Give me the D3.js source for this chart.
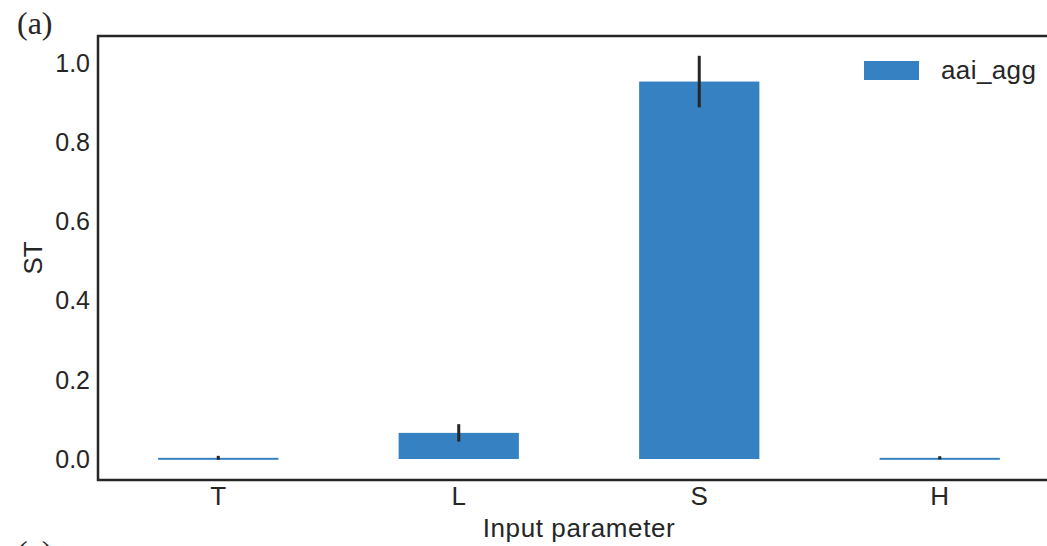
<!DOCTYPE html>
<html>
<head>
<meta charset="utf-8">
<script src="https://cdn.jsdelivr.net/npm/d3@7"></script>
<style>
  body { margin: 0; background: #fff; }
  svg text { font-family: "Liberation Sans", Arial, sans-serif; fill: #262626; }
</style>
</head>
<body>
<svg id="svg1" width="1047" height="546"></svg>
<script>
"use strict";

// data
let categories = ["T", "L", "S", "H"];
let stValues = [0.003, 0.066, 0.953, 0.003];
let stErrors = [0.005, 0.022, 0.065, 0.004];
let yTicks = [0.0, 0.2, 0.4, 0.6, 0.8, 1.0];
let seriesName = "aai_agg";

let svg = d3.select("#svg1");
let margin = {top: 36, left: 98, bottom: 66};
let plotRight = 1060;   // right spine sits just past the window edge
let height = 546 - margin.top - margin.bottom;

let x = d3.scaleBand().domain(categories).range([margin.left, plotRight]).padding(0.5).paddingOuter(0.25);
let y = d3.scaleLinear().domain([-0.053, 1.068]).range([margin.top + height, margin.top]);

let barColor = "#3681c1";
let ink = "#262626";

// y tick labels (no tick marks, seaborn white style)
svg.append("g").selectAll("text").data(yTicks).enter().append("text")
    .attr("x", 90).attr("y", d => y(d)).attr("dy", "0.35em")
    .attr("text-anchor", "end").style("font-size", "25px")
    .text(d => d.toFixed(1));

// x tick labels
svg.append("g").selectAll("text").data(categories).enter().append("text")
    .attr("x", d => x(d) + x.bandwidth() / 2).attr("y", 505)
    .attr("text-anchor", "middle").style("font-size", "26px")
    .text(d => d);

// bars
svg.append("g").selectAll("rect").data(categories).enter().append("rect")
    .attr("x", d => x(d))
    .attr("width", x.bandwidth())
    .attr("y", (d, i) => y(stValues[i]))
    .attr("height", (d, i) => Math.max(2, y(0) - y(stValues[i])))
    .attr("fill", barColor);

// error bars
svg.append("g").selectAll("line").data(categories).enter().append("line")
    .attr("x1", d => x(d) + x.bandwidth() / 2)
    .attr("x2", d => x(d) + x.bandwidth() / 2)
    .attr("y1", (d, i) => y(stValues[i] + stErrors[i]))
    .attr("y2", (d, i) => y(stValues[i] - stErrors[i]))
    .attr("stroke", ink).attr("stroke-width", 3);

// frame
svg.append("rect")
    .attr("x", margin.left).attr("y", margin.top)
    .attr("width", plotRight - margin.left).attr("height", height)
    .attr("fill", "none").attr("stroke", ink).attr("stroke-width", 2.5);

// axis titles
svg.append("text").attr("x", (margin.left + plotRight) / 2).attr("y", 537)
    .attr("text-anchor", "middle").style("font-size", "26px").style("letter-spacing", "0.6px")
    .text("Input parameter");
svg.append("text").attr("transform", `translate(42,${margin.top + height / 2}) rotate(-90)`)
    .attr("text-anchor", "middle").style("font-size", "26px").text("ST");

// legend
let legend = svg.append("g").attr("transform", "translate(864,61)");
legend.append("rect").attr("width", 55).attr("height", 19).attr("fill", barColor);
legend.append("text").attr("x", 77).attr("y", 18).style("font-size", "26px").style("letter-spacing", "0.4px")
    .text(seriesName);

// panel letters
svg.append("text").attr("x", 17).attr("y", 34)
    .style("font-family", "'Liberation Serif', serif").style("font-size", "32px").text("(a)");
svg.append("text").attr("x", 17).attr("y", 563)
    .style("font-family", "'Liberation Serif', serif").style("font-size", "32px").text("(c)");
</script>
</body>
</html>
